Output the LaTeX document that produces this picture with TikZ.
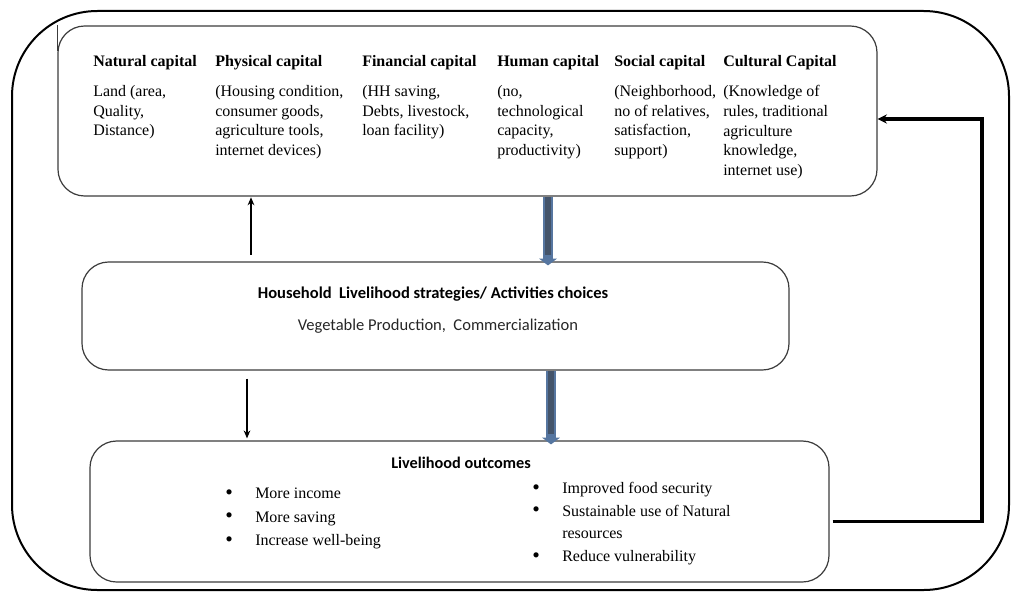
\documentclass[tikz,border=0pt]{standalone}
\usepackage{fontspec}
\setmainfont{Liberation Serif}
\newfontfamily\calib{Carlito}
\usetikzlibrary{arrows.meta,calc}

\definecolor{boxgray}{HTML}{3C3C3C}
\definecolor{arrowedge}{HTML}{5676A0}
\definecolor{arrowcore}{HTML}{44546A}

% bullet with a fixed indent before the item text
\newcommand\itembul{\makebox[21pt][l]{\hspace{-1.5pt}\raisebox{-0.4pt}{\scalebox{1.35}{•}}}}

\begin{document}
\begin{tikzpicture}[x=0.75pt,y=-0.75pt,
  frame/.style={draw=black, line width=1.5pt, rounded corners=64pt, inner sep=0pt},
  capbox/.style={draw=boxgray, line width=0.9pt, rounded corners=20pt, inner sep=0pt},
  head/.style={anchor=base west, inner sep=0pt, font=\bfseries\fontsize{12}{14}\selectfont},
  body/.style={anchor=north west, inner sep=0pt, align=left, font=\fontsize{12}{14.8}\selectfont},
  listL/.style={anchor=north west, inner sep=0pt, align=left, font=\fontsize{12}{17.6}\selectfont},
  listR/.style={anchor=north west, inner sep=0pt, align=left, font=\fontsize{12}{17}\selectfont},
  thinarrow/.style={draw=black, line width=1.4pt, -{Stealth[length=6pt,width=5pt]}},
  fbarrow/.style={draw=black, line width=2.6pt, -{Stealth[length=7pt,width=7pt]}},
  blueshaft/.style={draw=arrowedge, line width=7.5pt, -{Triangle[length=5pt,width=13pt]}},
  bluecore/.style={draw=arrowcore, line width=4pt, shorten >=5pt}]

\useasboundingbox (0,0) rectangle (1012,592);

% outer frame
\node[frame, minimum width=747.75pt, minimum height=434.25pt] (frame) at (510.5,300.5) {};

% the three main boxes
\node[capbox, minimum width=614.25pt, minimum height=127.5pt] (cap) at (467.5,111) {};
\node[capbox, minimum width=530.25pt, minimum height=81pt] (strat) at (435.5,316) {};
\node[capbox, minimum width=554.25pt, minimum height=105.75pt] (out) at (459.5,511.5) {};
\draw[boxgray, line width=0.75pt] (cap.north west) -- ++(0,26);

% capitals: headings
\node[head] (hnat) at (93,66) {Natural capital};
\node[head] (hphy) at (215,66) {Physical capital};
\node[head] (hfin) at (362,66) {Financial capital};
\node[head] (hhum) at (497,66) {Human capital};
\node[head] (hsoc) at (614,66) {Social capital};
\node[head] (hcul) at (723,66) {Cultural Capital};

% capitals: contents
\node[body] (bnat) at (93,85) {Land (area,\\Quality,\\Distance)};
\node[body] (bphy) at (215,85) {(Housing condition,\\consumer goods,\\agriculture tools,\\internet devices)};
\node[body] (bfin) at (362,85) {(HH saving,\\Debts, livestock,\\loan facility)};
\node[body] (bhum) at (497,85) {(no,\\technological\\capacity,\\productivity)};
\node[body] (bsoc) at (614,85) {(Neighborhood,\\no of relatives,\\satisfaction,\\support)};
\node[body] (bcul) at (723,85) {(Knowledge of\\rules, traditional\\agriculture\\knowledge,\\internet use)};

% strategies
\node[inner sep=0pt, font=\calib\bfseries\fontsize{12.4}{14}\selectfont] (stratT) at (433,294)
  {Household\ \ Livelihood strategies/ Activities choices};
\node[inner sep=0pt, font=\calib\fontsize{12.4}{14}\selectfont, text=black!85] (stratS) at (438,326)
  {Vegetable Production,\ \ Commercialization};

% outcomes
\node[inner sep=0pt, font=\calib\bfseries\fontsize{12.2}{14}\selectfont] (outT) at (461,463) {Livelihood outcomes};
\node[listL] (outL) at (227,488) {\itembul More income\\\itembul More saving\\\itembul Increase well-being};
\node[listR] (outR) at (534,482) {\itembul Improved food security\\\itembul Sustainable use of Natural\\\makebox[21pt]{}resources\\\itembul Reduce vulnerability};

% thin arrows
\coordinate (ua) at (251,0);
\coordinate (da) at (247,0);
\draw[thinarrow, shorten <=5pt, shorten >=0.5pt] (strat.north -| ua) -- (cap.south -| ua);
\draw[thinarrow, shorten <=6pt, shorten >=1.5pt] (strat.south -| da) -- (out.north -| da);

% broad arrows
\coordinate (ba) at (548,0);
\coordinate (bb) at (551,0);
\draw[blueshaft, shorten >=-3pt] (cap.south -| ba) -- (strat.north -| ba);
\draw[bluecore] (cap.south -| ba) -- (strat.north -| ba);
\draw[blueshaft, shorten >=-3pt] (strat.south -| bb) -- (out.north -| bb);
\draw[bluecore] (strat.south -| bb) -- (out.north -| bb);

% feedback loop
\coordinate (fbc) at (982,119);
\draw[fbarrow] ($(out.east)+(3,10)$) -| (fbc) -- (cap.east |- fbc);

\end{tikzpicture}
\end{document}
